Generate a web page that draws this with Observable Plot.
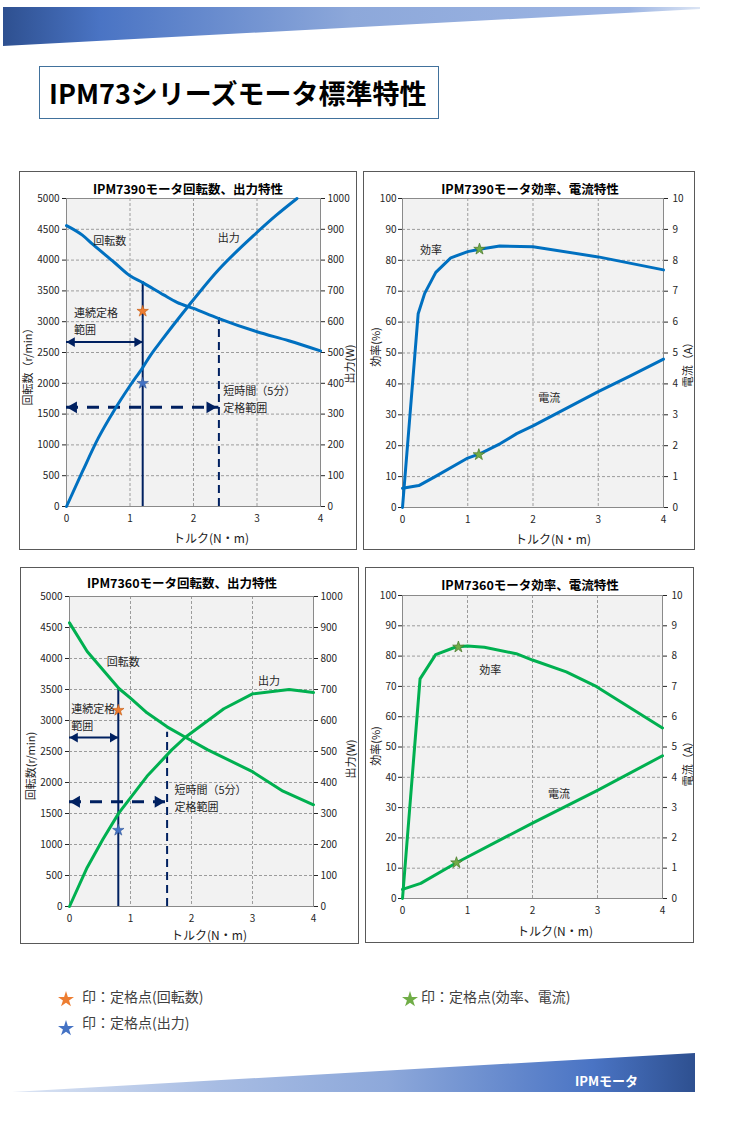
<!DOCTYPE html>
<html><head><meta charset="utf-8">
<script src="https://cdn.jsdelivr.net/npm/d3@7"></script>
<script src="https://cdn.jsdelivr.net/npm/@observablehq/plot@0.6"></script>
<style>
html,body{margin:0;padding:0;background:#fff;}
#page{position:relative;width:729px;height:1123px;overflow:hidden;font-family:"Noto Sans CJK JP","Noto Sans",sans-serif;}
.abs{position:absolute;}
.box{position:absolute;border:1px solid #595959;box-sizing:border-box;}
.ctitle{position:absolute;font-weight:bold;font-size:12.5px;transform:translate(-50%,-50%);white-space:nowrap;color:#000;}
.xt{position:absolute;font-size:12px;transform:translate(-50%,-50%);white-space:nowrap;color:#222;}
.yt{position:absolute;font-size:11px;transform:translate(-50%,-50%) rotate(-90deg);white-space:nowrap;color:#222;}
.leg{position:absolute;font-size:14px;color:#404040;white-space:nowrap;transform:translateY(-50%);}
</style></head><body><div id="page"></div>
<script>
// ---------- tick labels ----------
const torqueTicks = [0, 1, 2, 3, 4];
const rpmTicks = [0, 500, 1000, 1500, 2000, 2500, 3000, 3500, 4000, 4500, 5000];
const wattTicks = [0, 100, 200, 300, 400, 500, 600, 700, 800, 900, 1000];
const pctTicks = [0, 10, 20, 30, 40, 50, 60, 70, 80, 90, 100];
const ampTicks = [0, 1, 2, 3, 4, 5, 6, 7, 8, 9, 10];

// ---------- IPM7390 ----------
const m90_speed_T = [0, 0.25, 0.42, 0.75, 1.0, 1.2, 1.53, 1.74, 2.0, 2.39, 3.0, 3.5, 4.0];
const m90_speed   = [4560, 4405, 4250, 3965, 3745, 3635, 3435, 3315, 3215, 3055, 2837, 2690, 2525];
const m90_power_T = [0, 0.25, 0.5, 0.75, 1.0, 1.2, 1.32, 1.5, 1.92, 2.37, 2.99, 3.3, 3.63];
const m90_power   = [0, 113, 222, 312, 392, 451, 490, 540, 651, 763, 888, 945, 1000];
const m90_eff_T = [0, 0.24, 0.34, 0.51, 0.74, 1.0, 1.18, 1.49, 2.0, 3.0, 4.0];
const m90_eff   = [0, 62.7, 69.3, 76.1, 80.8, 82.8, 83.6, 84.6, 84.4, 81.1, 76.9];
const m90_cur_T = [0, 0.25, 0.5, 1.0, 1.2, 1.5, 1.75, 2.0, 3.0, 3.5, 4.0];
const m90_cur   = [0.62, 0.71, 1.0, 1.6, 1.75, 2.07, 2.39, 2.64, 3.75, 4.27, 4.8];
const m90_rated = [1.2, 3170, 400];          // torque, speed, power
const m90_ratedEC = [[1.18, 83.6], [1.17, 1.71]]; // efficiency, current
const m90_range = [1.2, 3650, 2.4, 3070];    // continuous limit & top, short-time limit & top
const m90_arrowY = [2670, 1610];

// ---------- IPM7360 ----------
const m60_speed_T = [0, 0.29, 0.81, 1.0, 1.27, 1.6, 1.9, 2.26, 2.99, 3.5, 4.0];
const m60_speed   = [4575, 4112, 3516, 3360, 3124, 2898, 2730, 2530, 2180, 1860, 1641];
const m60_power_T = [0, 0.29, 0.55, 0.81, 1.27, 1.68, 1.9, 2.53, 3.0, 3.6, 4.0];
const m60_power   = [0, 126, 218, 302, 420, 506, 546, 638, 686, 700, 690];
const m60_eff_T = [0, 0.27, 0.51, 0.82, 1.0, 1.26, 1.75, 2.0, 2.52, 2.98, 4.0];
const m60_eff   = [0, 72.5, 80.5, 83.0, 83.3, 82.9, 80.8, 78.7, 74.8, 70.0, 56.3];
const m60_cur_T = [0, 0.28, 0.83, 2.0, 3.0, 4.0];
const m60_cur   = [0.3, 0.5, 1.18, 2.49, 3.57, 4.71];
const m60_rated = [0.8, 3165, 246];
const m60_ratedEC = [[0.86, 83.0], [0.83, 1.18]];
const m60_range = [0.8, 3520, 1.6, 2811];
const m60_arrowY = [2725, 1690];

// ---------- in-chart labels ----------
const m90_rpmLabels = [["回転数", 0.42, 4300], ["出力", 2.38, 4354], ["連続定格", 0.12, 3136], ["範囲", 0.12, 2864], ["短時間（5分）", 2.47, 1875], ["定格範囲", 2.47, 1592]];
const m90_effLabels = [["効率", 0.27, 83.3], ["電流", 2.08, 35.3]];
const m60_rpmLabels = [["回転数", 0.61, 3928], ["出力", 3.09, 3636], ["連続定格", 0.03, 3178], ["範囲", 0.03, 2903], ["短時間（5分）", 1.72, 1875], ["定格範囲", 1.72, 1591]];
const m60_effLabels = [["効率", 1.18, 75.2], ["電流", 2.24, 34.4]];

const blue = "#0070C0", green = "#00B050", navy = "#002060";
const page = document.getElementById("page");

function el(tag, cls, style, html) {
  const e = document.createElement(tag);
  if (cls) e.className = cls;
  if (style) e.setAttribute("style", style);
  if (html != null) e.innerHTML = html;
  page.appendChild(e);
  return e;
}

const ser = (T, V, f = 1) => T.map((t, i) => ({x: t, y: V[i] * f}));

function chart(o) {
  const k = o.k;
  const marks = [
    Plot.frame({fill: "#F2F2F2"}),
    Plot.gridX(torqueTicks.filter(t => t > 0 && t < 4), {stroke: "#9C9C9C", strokeOpacity: 1, strokeDasharray: "3,2"}),
    Plot.gridY(o.leftTicks.filter((t, i, a) => i > 0 && i < a.length - 1), {stroke: "#9C9C9C", strokeOpacity: 1, strokeDasharray: "3,2"}),
    Plot.frame({stroke: "#8A8A8A"}),
    Plot.axisX(torqueTicks, {tickSize: 0, tickPadding: 8, label: null, fontSize: 10, tickFormat: d => String(d)}),
    Plot.axisY(o.leftTicks, {anchor: "left", tickSize: 4, tickPadding: o.lpad, label: null, fontSize: 10, tickFormat: d => String(d)}),
    Plot.axisY(o.rightTicks.map(v => v * k), {anchor: "right", tickSize: 4, tickPadding: o.rpad, label: null, fontSize: 10, tickFormat: d => String(Math.round(d / k))}),
    ...(o.extra || []),
    Plot.line(o.s1, {x: "x", y: "y", stroke: o.color, strokeWidth: 3, curve: o.curve}),
    Plot.line(o.s2, {x: "x", y: "y", stroke: o.color, strokeWidth: 3, curve: o.curve}),
    Plot.text(o.labels, {x: d => d[1], y: d => d[2], text: d => d[0], textAnchor: "start", fontSize: 11, fill: "#262626"}),
    ...o.stars
  ];
  const svg = Plot.plot({
    width: o.w, height: o.h,
    marginLeft: o.mL, marginRight: o.mR, marginTop: o.mT, marginBottom: o.mB,
    x: {domain: [0, 4]},
    y: {domain: [0, o.yMax]},
    style: {fontFamily: "'Noto Sans CJK JP','Noto Sans',sans-serif", fontSize: "10px", color: "#262626", background: "transparent", overflow: "visible"},
    marks
  });
  svg.style.position = "absolute";
  svg.style.left = o.left + "px";
  svg.style.top = o.top + "px";
  el("div", "box", `left:${o.left}px;top:${o.top}px;width:${o.w}px;height:${o.h}px;`);
  page.appendChild(svg);
  el("div", "ctitle", `left:${o.title[1]}px;top:${o.title[2]}px;`, o.title[0]);
  el("div", "yt", `left:${o.ly[1]}px;top:${o.ly[2]}px;`, o.ly[0]);
  el("div", "yt", `left:${o.ry[1]}px;top:${o.ry[2]}px;`, o.ry[0]);
  el("div", "xt", `left:${o.xt[0]}px;top:${o.xt[1]}px;`, "トルク(N・m)");
}

function rangeMarks(range, arrowY) {
  const [c, cTop, s, sTop] = range;
  return [
    Plot.ruleX([{x: c, y2: cTop}], {x: "x", y1: () => 0, y2: "y2", stroke: navy, strokeWidth: 2}),
    Plot.ruleX([{x: s, y2: sTop}], {x: "x", y1: () => 0, y2: "y2", stroke: navy, strokeWidth: 2, strokeDasharray: "8,5"}),
    Plot.ruleY([{y: arrowY[0], x2: c}], {y: "y", x1: () => 0, x2: "x2", stroke: navy, strokeWidth: 2}),
    Plot.ruleY([{y: arrowY[1], x2: s}], {y: "y", x1: () => 0, x2: "x2", stroke: navy, strokeWidth: 3, strokeDasharray: "12,9"}),
    Plot.dot([{x: 0, y: arrowY[0]}], {x: "x", y: "y", symbol: "triangle", r: 3.6, fill: navy, rotate: -90, dx: 5.5}),
    Plot.dot([{x: c, y: arrowY[0]}], {x: "x", y: "y", symbol: "triangle", r: 3.6, fill: navy, rotate: 90, dx: -5.5}),
    Plot.dot([{x: 0, y: arrowY[1]}], {x: "x", y: "y", symbol: "triangle", r: 4.4, fill: navy, rotate: -90, dx: 7}),
    Plot.dot([{x: s, y: arrowY[1]}], {x: "x", y: "y", symbol: "triangle", r: 4.4, fill: navy, rotate: 90, dx: -9})
  ];
}

function rpmStars(rated, k) {
  return [
    Plot.dot([{x: rated[0], y: rated[1]}], {x: "x", y: "y", symbol: "star", r: 3.6, fill: "#ED7D31", stroke: "#C55A11", strokeWidth: 0.6}),
    Plot.dot([{x: rated[0], y: rated[2] * k}], {x: "x", y: "y", symbol: "star", r: 3.6, fill: "#4472C4", stroke: "#2F5597", strokeWidth: 0.6})
  ];
}
function ecStars(pts) {
  return [
    Plot.dot([{x: pts[0][0], y: pts[0][1]}, {x: pts[1][0], y: pts[1][1] * 10}], {x: "x", y: "y", symbol: "star", r: 3.6, fill: "#70AD47", stroke: "#507E32", strokeWidth: 0.8})
  ];
}

// Panel 1
chart({left: 19, top: 171, w: 338, h: 379, mL: 47, mR: 37, mT: 27, mB: 44, yMax: 5000, k: 5,
  leftTicks: rpmTicks, rightTicks: wattTicks, lpad: 3, rpad: 3, color: blue, curve: "monotone-x",
  s1: ser(m90_speed_T, m90_speed), s2: ser(m90_power_T, m90_power, 5),
  labels: m90_rpmLabels, extra: rangeMarks(m90_range, m90_arrowY), stars: rpmStars(m90_rated, 5),
  title: ["IPM7390モータ回転数、出力特性", 188, 188], ly: ["回転数（r/min）", 27, 364], ry: ["出力(W)", 349, 364], xt: [211, 537]});

// Panel 2
chart({left: 363, top: 171, w: 332, h: 379, mL: 39, mR: 32, mT: 27, mB: 43, yMax: 100, k: 10,
  leftTicks: pctTicks, rightTicks: ampTicks, lpad: 2, rpad: 5, color: blue, curve: "linear",
  s1: ser(m90_eff_T, m90_eff), s2: ser(m90_cur_T, m90_cur, 10),
  labels: m90_effLabels, stars: ecStars(m90_ratedEC),
  title: ["IPM7390モータ効率、電流特性", 530, 188], ly: ["効率(%)", 375, 347], ry: ["電流（A）", 687, 362], xt: [553, 538]});

// Panel 3
chart({left: 20, top: 567, w: 339, h: 377, mL: 49, mR: 46, mT: 29, mB: 38, yMax: 5000, k: 5,
  leftTicks: rpmTicks, rightTicks: wattTicks, lpad: 3, rpad: 3, color: green, curve: "linear",
  s1: ser(m60_speed_T, m60_speed), s2: ser(m60_power_T, m60_power, 5),
  labels: m60_rpmLabels, extra: rangeMarks(m60_range, m60_arrowY), stars: rpmStars(m60_rated, 5),
  title: ["IPM7360モータ回転数、出力特性", 182, 582], ly: ["回転数(r/min)", 30, 766], ry: ["出力(W)", 350, 759], xt: [209, 934]});

// Panel 4
chart({left: 365, top: 567, w: 329, h: 376, mL: 37, mR: 32, mT: 28, mB: 45, yMax: 100, k: 10,
  leftTicks: pctTicks, rightTicks: ampTicks, lpad: 2, rpad: 5, color: green, curve: "linear",
  s1: ser(m60_eff_T, m60_eff), s2: ser(m60_cur_T, m60_cur, 10),
  labels: m60_effLabels, stars: ecStars(m60_ratedEC),
  title: ["IPM7360モータ効率、電流特性", 530, 584], ly: ["効率(%)", 375, 746], ry: ["電流（A）", 687, 761], xt: [555, 930]});

// ---------- header / title / legend / footer ----------
el("div", "abs", "left:0;top:0;", `<svg width="729" height="60"><defs><linearGradient id="hg" x1="0" x2="1">
<stop offset="0" stop-color="#2E5090"/><stop offset="0.14" stop-color="#4A74C4"/><stop offset="0.5" stop-color="#8DA8DA"/>
<stop offset="0.9" stop-color="#9DB5E3"/><stop offset="1" stop-color="#DCE5F4"/></linearGradient></defs>
<polygon points="3,7 700,7 700,9 3,46" fill="url(#hg)"/></svg>`);
el("div", "abs", "left:39px;top:66px;width:400px;height:53px;border:1px solid #41719C;box-sizing:border-box;");
el("div", "abs", "left:49px;top:92px;transform:translateY(-50%);font-size:27px;font-weight:bold;color:#000;white-space:nowrap;letter-spacing:0px;", "IPM73シリーズモータ標準特性");

const starPath = d3.symbol(d3.symbolStar, 80)();
function legStar(x, y, fill) {
  el("div", "abs", `left:${x - 8}px;top:${y - 8}px;`, `<svg width="16" height="16"><path d="${starPath}" transform="translate(8,8.5)" fill="${fill}"/></svg>`);
}
legStar(66, 996, "#ED7D31");
legStar(66, 1025, "#4472C4");
legStar(410, 996, "#70AD47");
el("div", "leg", "left:82px;top:996px;", "印：定格点(回転数)");
el("div", "leg", "left:82px;top:1022px;", "印：定格点(出力)");
el("div", "leg", "left:421px;top:996px;", "印：定格点(効率、電流)");

el("div", "abs", "left:0;top:1040px;", `<svg width="729" height="60"><defs><linearGradient id="fg" x1="0" x2="1">
<stop offset="0" stop-color="#DCE5F4"/><stop offset="0.3" stop-color="#A7BCE3"/><stop offset="0.55" stop-color="#8DA8DA"/>
<stop offset="0.85" stop-color="#4A74C4"/><stop offset="1" stop-color="#2E5090"/></linearGradient></defs>
<polygon points="12,52 695,13 695,52" fill="url(#fg)"/></svg>`);
el("div", "abs", "left:575px;top:1080px;transform:translateY(-50%);font-size:13px;font-weight:bold;color:#fff;white-space:nowrap;", "IPMモータ");
</script>
</body></html>
